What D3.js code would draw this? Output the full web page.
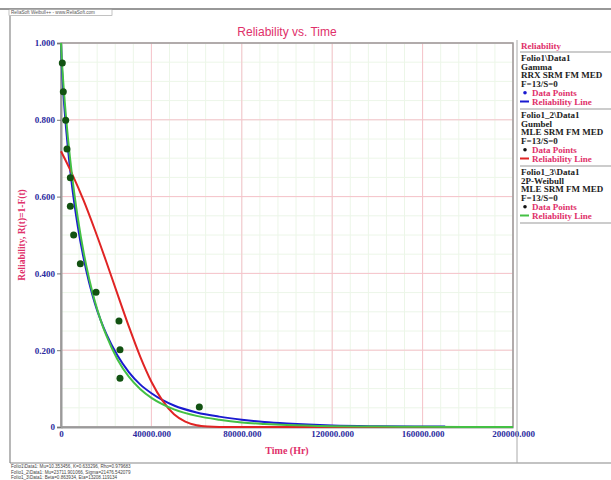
<!DOCTYPE html>
<html>
<head>
<meta charset="utf-8">
<script src="https://cdn.jsdelivr.net/npm/d3@7"></script>
<style>
  html, body { margin: 0; padding: 0; background: #fff; }
  svg { display: block; }
</style>
</head>
<body>
<svg id="chart" width="611" height="480"></svg>
<script>
// ---- data ----
const xTicks = [0, 40000, 80000, 120000, 160000, 200000];
const yTicks = [0, 0.2, 0.4, 0.6, 0.8, 1.0];

// failure data points (time, median-rank reliability)
const pointTimes = [575, 1020, 2080, 2650, 4130, 4130, 5600, 8550, 15500, 25660, 26100, 26100, 61200];
const pointRel   = [0.948, 0.873, 0.799, 0.724, 0.649, 0.575, 0.500, 0.425, 0.351, 0.276, 0.201, 0.127, 0.052];

// Gamma reliability line (Folio1\Data1)
const gammaT = [0, 250, 500, 1000, 2000, 3000, 4000, 5000, 6000, 7500, 10000, 12500, 15000, 17500, 20000, 25000, 30000, 35000, 40000, 45000, 50000, 60000, 70000, 80000, 90000, 100000, 120000, 140000, 160000, 170000];
const gammaR = [1.0, 0.955, 0.925, 0.875, 0.795, 0.73, 0.672, 0.622, 0.578, 0.52, 0.44, 0.375, 0.322, 0.279, 0.243, 0.186, 0.143, 0.111, 0.088, 0.07, 0.056, 0.038, 0.027, 0.019, 0.013, 0.009, 0.004, 0.002, 0.001, 0.001];

// Gumbel reliability line (Folio1_2\Data1)
const gumbelT = [0, 5000, 10000, 15000, 20000, 25000, 30000, 35000, 40000, 45000, 50000, 55000, 60000, 65000, 70000, 80000, 100000, 150000, 200000];
const gumbelR = [0.718, 0.658, 0.590, 0.513, 0.431, 0.346, 0.262, 0.184, 0.118, 0.068, 0.033, 0.014, 0.0044, 0.0011, 0.0002, 0, 0, 0, 0];

// 2P-Weibull reliability line (Folio1_3\Data1)
const weibullT = [0, 100, 250, 500, 1000, 2000, 3000, 4000, 5000, 6000, 7500, 10000, 12500, 15000, 17500, 20000, 25000, 30000, 35000, 40000, 45000, 50000, 60000, 70000, 80000, 90000, 100000, 120000, 140000, 160000, 200000];
const weibullR = [1.0, 0.985, 0.968, 0.943, 0.898, 0.822, 0.757, 0.700, 0.649, 0.603, 0.542, 0.455, 0.385, 0.327, 0.279, 0.239, 0.176, 0.131, 0.099, 0.076, 0.059, 0.046, 0.029, 0.019, 0.012, 0.008, 0.005, 0.002, 0.001, 0.0005, 0];

const legendGroups = [
  { lines: ["Folio1\\Data1", "Gamma", "RRX SRM FM MED", "F=13/S=0"], dot: "#1a1ad0", line: "#1a1ad0" },
  { lines: ["Folio1_2\\Data1", "Gumbel", "MLE SRM FM MED", "F=13/S=0"], dot: "#111", line: "#e02424" },
  { lines: ["Folio1_3\\Data1", "2P-Weibull", "MLE SRM FM MED", "F=13/S=0"], dot: "#111", line: "#44c044" }
];

const footerLines = [
  "Folio1\\Data1: Mu=10.353456, K=0.633296, Rho=0.979683",
  "Folio1_2\\Data1: Mu=23711.901066, Sigma=21476.542079",
  "Folio1_3\\Data1: Beta=0.863934, Eta=13208.119134"
];

// ---- drawing ----
const svg = d3.select("#chart");
const W = 611, H = 480;
const plotL = 61, plotR = 513, plotT = 43, plotB = 427;
const crimson = "#e0306a";
const navy = "#2b2b9e";
const serif = "'Liberation Serif', 'DejaVu Serif', serif";

const x = d3.scaleLinear().domain([0, 200000]).range([plotL, plotR]);
const y = d3.scaleLinear().domain([0, 1]).range([plotB, plotT]);

// outer frame and header strip
svg.append("line").attr("x1", 0).attr("x2", W).attr("y1", 9).attr("y2", 9)
  .attr("stroke", "#333").attr("stroke-width", 1.2);
svg.append("rect").attr("x", 9).attr("y", 9.5).attr("width", 103).attr("height", 6)
  .attr("fill", "#fff").attr("stroke", "#999").attr("stroke-width", 0.6);
svg.append("text").attr("x", 11).attr("y", 14).attr("font-size", 4.6)
  .attr("font-family", "'Liberation Sans', sans-serif").attr("fill", "#555")
  .text("ReliaSoft Weibull++ - www.ReliaSoft.com");
svg.append("line").attr("x1", 10).attr("x2", 10).attr("y1", 16).attr("y2", 463)
  .attr("stroke", "#888").attr("stroke-width", 1.2);
svg.append("line").attr("x1", 10).attr("x2", W).attr("y1", 463).attr("y2", 463)
  .attr("stroke", "#888").attr("stroke-width", 1.2);

// title
svg.append("text").attr("x", 287).attr("y", 36).attr("text-anchor", "middle")
  .attr("font-family", "'Liberation Sans', Arial, sans-serif").attr("font-size", 12)
  .attr("fill", crimson).text("Reliability vs. Time");

// minor grid
const minorX = d3.range(0, 200001, 8000);
const minorY = d3.range(0, 1.0001, 0.05);
const g = svg.append("g");
g.selectAll(".mx").data(minorX).join("line")
  .attr("x1", d => x(d)).attr("x2", d => x(d)).attr("y1", plotT).attr("y2", plotB)
  .attr("stroke", "#ecf6e8").attr("stroke-width", 1);
g.selectAll(".my").data(minorY).join("line")
  .attr("x1", plotL).attr("x2", plotR).attr("y1", d => y(d)).attr("y2", d => y(d))
  .attr("stroke", "#ecf6e8").attr("stroke-width", 1);
// major grid
g.selectAll(".gx").data(xTicks).join("line")
  .attr("x1", d => x(d)).attr("x2", d => x(d)).attr("y1", plotT).attr("y2", plotB)
  .attr("stroke", "#f6c2cb").attr("stroke-width", 1);
g.selectAll(".gy").data(yTicks).join("line")
  .attr("x1", plotL).attr("x2", plotR).attr("y1", d => y(d)).attr("y2", d => y(d))
  .attr("stroke", "#f6c2cb").attr("stroke-width", 1);

// plot border
svg.append("rect").attr("x", plotL).attr("y", plotT).attr("width", plotR - plotL).attr("height", plotB - plotT)
  .attr("fill", "none").attr("stroke", "#9a9a9a").attr("stroke-width", 1.5);

// axes
const fmt = d => d === 0 ? "0" : d3.format(".3f")(d);
const yAxis = svg.append("g").attr("transform", `translate(${plotL},0)`)
  .call(d3.axisLeft(y).tickValues(yTicks).tickFormat(fmt).tickSize(4).tickPadding(2));
const xAxis = svg.append("g").attr("transform", `translate(0,${plotB})`)
  .call(d3.axisBottom(x).tickValues(xTicks).tickFormat(fmt).tickSize(0).tickPadding(4));
[yAxis, xAxis].forEach(a => {
  a.select(".domain").attr("stroke", "#9a9a9a").attr("stroke-width", 2);
  a.selectAll(".tick line").attr("stroke", "#777");
  a.selectAll("text").attr("font-family", serif).attr("font-weight", "bold")
    .attr("font-size", 9).attr("fill", navy);
});

// axis titles
svg.append("text").attr("x", 287).attr("y", 454).attr("text-anchor", "middle")
  .attr("font-family", serif).attr("font-weight", "bold").attr("font-size", 10)
  .attr("fill", crimson).text("Time (Hr)");
svg.append("text").attr("transform", "translate(25,235) rotate(-90)").attr("text-anchor", "middle")
  .attr("font-family", serif).attr("font-weight", "bold").attr("font-size", 9.5)
  .attr("fill", crimson).text("Reliability, R(t)=1-F(t)");

// reliability lines
const line = d3.line().x(d => x(d[0])).y(d => y(d[1])).curve(d3.curveMonotoneX);
const plot = svg.append("g");
const series = [
  { t: gammaT, r: gammaR, color: "#1a1ad0" },
  { t: gumbelT, r: gumbelR, color: "#e02424" },
  { t: weibullT, r: weibullR, color: "#44c044" }
];
series.forEach(s => {
  plot.append("path").datum(s.t.map((t, i) => [t, s.r[i]]))
    .attr("d", line).attr("fill", "none").attr("stroke", s.color)
    .attr("stroke-width", 2).attr("stroke-linejoin", "round");
});

// data points
plot.selectAll(".pt").data(pointTimes.map((t, i) => [t, pointRel[i]])).join("circle")
  .attr("cx", d => x(d[0])).attr("cy", d => y(d[1])).attr("r", 3.5)
  .attr("fill", "#125212");

// legend panel
const lg = svg.append("g");
lg.append("line").attr("x1", 517).attr("x2", 517).attr("y1", 40).attr("y2", 463)
  .attr("stroke", "#aaa").attr("stroke-width", 1);
lg.append("text").attr("x", 521).attr("y", 49).attr("font-family", serif)
  .attr("font-weight", "bold").attr("font-size", 9).attr("fill", crimson).text("Reliability");
const rowH = 8.7;
let sy = 52;
lg.append("line").attr("x1", 520).attr("x2", W).attr("y1", sy).attr("y2", sy)
  .attr("stroke", "#999").attr("stroke-width", 1.2);
legendGroups.forEach(grp => {
  let ty = sy + 9;
  grp.lines.forEach(txt => {
    lg.append("text").attr("x", 521).attr("y", ty).attr("font-family", serif)
      .attr("font-weight", "bold").attr("font-size", 9).attr("fill", "#222").text(txt);
    ty += rowH;
  });
  lg.append("circle").attr("cx", 525).attr("cy", ty - 3).attr("r", 1.8).attr("fill", grp.dot);
  lg.append("text").attr("x", 532).attr("y", ty).attr("font-family", serif)
    .attr("font-weight", "bold").attr("font-size", 9).attr("fill", crimson).text("Data Points");
  ty += rowH;
  lg.append("line").attr("x1", 520).attr("x2", 529).attr("y1", ty - 3).attr("y2", ty - 3)
    .attr("stroke", grp.line).attr("stroke-width", 2);
  lg.append("text").attr("x", 532).attr("y", ty).attr("font-family", serif)
    .attr("font-weight", "bold").attr("font-size", 9).attr("fill", crimson).text("Reliability Line");
  sy = ty + 4.5;
  lg.append("line").attr("x1", 520).attr("x2", W).attr("y1", sy).attr("y2", sy)
    .attr("stroke", "#999").attr("stroke-width", 1.2);
});

// footer with fitted parameters
footerLines.forEach((txt, i) => {
  svg.append("text").attr("x", 11).attr("y", 468 + i * 5.6).attr("font-size", 4.6)
    .attr("font-family", "'Liberation Sans', sans-serif").attr("fill", "#444").text(txt);
});
</script>
</body>
</html>
